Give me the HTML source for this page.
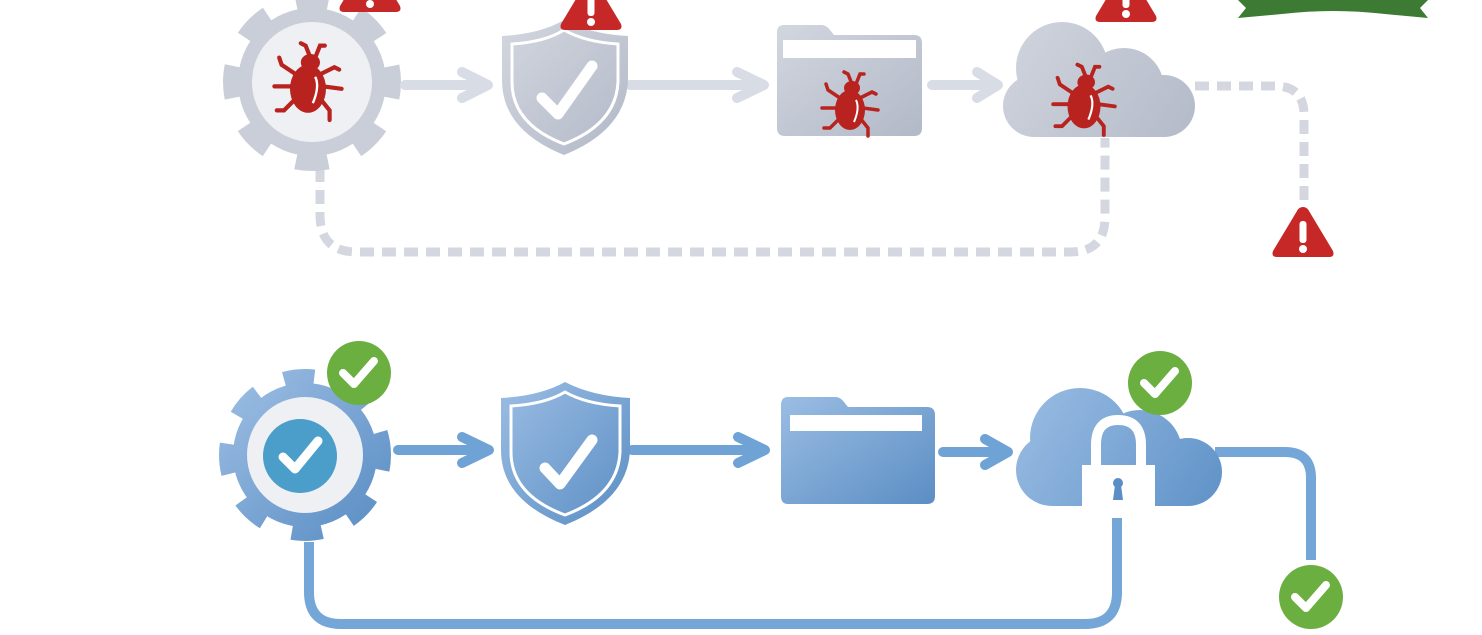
<!DOCTYPE html>
<html><head><meta charset="utf-8"><style>html,body{margin:0;padding:0;background:#fff}svg{display:block}</style></head>
<body>
<svg width="1482" height="635" viewBox="0 0 1482 635" xmlns="http://www.w3.org/2000/svg">
<defs>
<g id="bug">
 <g stroke="#b8231f" stroke-width="3.5" fill="none" stroke-linecap="round">
  <path d="M-10,-8 L-22,-16 L-24,-22"/><path d="M-13,2 L-28,2"/><path d="M-10,12 L-20,22 L-26,22"/>
  <path d="M10,-8 L22,-14 L26,-12"/><path d="M13,2 L28,4"/><path d="M10,12 L18,22 L18,30"/>
  <path d="M2,-22 L-2,-32 L-6,-34"/><path d="M6,-22 L10,-32 L14,-32"/>
 </g>
 <ellipse cx="2" cy="-18" rx="8" ry="7" fill="#b8231f"/>
 <ellipse cx="0" cy="4" rx="15" ry="20" fill="#b8231f"/>
 <path d="M6,-6 Q10,2 4,16" stroke="#fff" stroke-width="2" fill="none"/>
</g>
<g id="warn">
 <path d="M0,-28 Q4,-28 6,-24 L30,16 Q32,22 26,22 L-26,22 Q-32,22 -30,16 L-6,-24 Q-4,-28 0,-28Z" fill="#c62828"/>
 <rect x="-3.5" y="-14" width="7" height="22" rx="3" fill="#fff"/>
 <circle cx="0" cy="14" r="4" fill="#fff"/>
</g>
<g id="ok">
 <circle r="32" fill="#6aaf3f"/>
 <path d="M-16,0 L-5,11 L15,-12" stroke="#fff" stroke-width="8" fill="none" stroke-linecap="round" stroke-linejoin="round"/>
</g>
<linearGradient id="bl" x1="0" y1="0" x2="1" y2="1"><stop offset="0" stop-color="#9bbde3"/><stop offset="1" stop-color="#5b8ec4"/></linearGradient>
<linearGradient id="gr" x1="0" y1="0" x2="1" y2="1"><stop offset="0" stop-color="#d2d6df"/><stop offset="1" stop-color="#b2b9c7"/></linearGradient>
<linearGradient id="cg" gradientUnits="userSpaceOnUse" x1="1010" y1="20" x2="1190" y2="140"><stop offset="0" stop-color="#d0d4dd"/><stop offset="1" stop-color="#b4bbc9"/></linearGradient>
<linearGradient id="cb" gradientUnits="userSpaceOnUse" x1="1020" y1="385" x2="1220" y2="510"><stop offset="0" stop-color="#9bbde3"/><stop offset="1" stop-color="#5f92c8"/></linearGradient>
</defs>

<!-- ===== TOP ROW ===== -->
<g fill="none" stroke="#d4d7df" stroke-width="9" stroke-dasharray="14,8">
 <path d="M320,168 L320,215 Q320,252 357,252 L1070,252 Q1105,252 1105,217 L1105,138"/>
 <path d="M1195,86 L1275,86 Q1304,86 1304,115 L1304,205"/>
</g>
<!-- gear -->
<circle cx="312" cy="82" r="74" fill="#c9ced8"/>
<circle cx="312" cy="82" r="80" fill="none" stroke="#c9ced8" stroke-width="18" stroke-dasharray="32,30.83" stroke-dashoffset="16"/>
<circle cx="312" cy="82" r="60" fill="#eef0f3"/>
<use href="#bug" transform="translate(308,84) scale(1.2)"/>
<use href="#warn" transform="translate(370,-10)"/>
<g stroke="#d8dce4" stroke-width="10" fill="none" stroke-linecap="round" stroke-linejoin="round">
 <path d="M405,85 L487,85 M462,72 L488,85 L462,98"/>
 <path d="M630,85 L763,85 M737,72 L764,85 L737,98"/>
 <path d="M932,85 L995,85 M977,72 L998,85 L977,98"/>
</g>
<!-- shield -->
<path d="M502,36 Q540,34 564,20 Q590,34 628,36 L628,80 Q626,130 564,155 Q502,130 502,80Z" fill="url(#gr)"/>
<path d="M512,44 Q545,42 564,30 Q585,42 618,44 L618,82 Q616,124 564,144 Q512,124 512,82Z" fill="none" stroke="#fff" stroke-width="3"/>
<path d="M542,98 L558,114 L592,66" stroke="#fff" stroke-width="11" fill="none" stroke-linecap="round" stroke-linejoin="round"/>
<use href="#warn" transform="translate(591,8)"/>
<!-- folder -->
<path d="M784,25 L822,25 Q826,25 830,30 L834,35 L914,35 Q922,35 922,43 L922,128 Q922,136 914,136 L785,136 Q777,136 777,128 L777,32 Q777,25 784,25Z" fill="url(#gr)"/>
<rect x="783" y="40" width="133" height="18" fill="#fff"/>
<use href="#bug" transform="translate(850,106)"/>
<!-- cloud -->
<g fill="url(#cg)">
 <circle cx="1062" cy="68" r="46"/><circle cx="1124" cy="88" r="40"/><circle cx="1034" cy="106" r="31"/><circle cx="1164" cy="106" r="31"/>
 <rect x="1034" y="90" width="130" height="47"/>
</g>
<use href="#bug" transform="translate(1084,102) scale(1.1)"/>
<use href="#warn" transform="translate(1126,0)"/>
<use href="#warn" transform="translate(1303,235)"/>
<path d="M1238,0 L1428,0 L1420,8 L1428,18 L1385,14 Q1333,8 1282,14 L1238,18 L1246,8Z" fill="#3d7a34"/>

<!-- ===== BOTTOM ROW ===== -->
<g fill="none" stroke="#74a6d8" stroke-width="10">
 <path d="M309,542 L309,592 Q309,624 341,624 L1085,624 Q1117,624 1117,592 L1117,518"/>
 <path d="M1215,452 L1285,452 Q1311,452 1311,478 L1311,560"/>
</g>
<circle cx="305" cy="455" r="72" fill="url(#bl)"/>
<circle cx="305" cy="455" r="77" fill="none" stroke="url(#bl)" stroke-width="18" stroke-dasharray="30,29.48" stroke-dashoffset="15"/>
<circle cx="305" cy="455" r="58" fill="#eef0f4"/>
<circle cx="300" cy="456" r="37" fill="#4a9ec9"/>
<path d="M283,457 L295,469 L318,441" stroke="#fff" stroke-width="9" fill="none" stroke-linecap="round" stroke-linejoin="round"/>
<use href="#ok" transform="translate(359,373)"/>
<g stroke="#6fa3d6" stroke-width="10" fill="none" stroke-linecap="round" stroke-linejoin="round">
 <path d="M398,450 L488,450 M462,437 L489,450 L462,463"/>
 <path d="M632,450 L764,450 M738,437 L765,450 L738,463"/>
 <path d="M943,452 L1006,452 M985,439 L1008,452 L985,465"/>
</g>
<path d="M501,398 Q540,396 565,382 Q592,396 630,398 L630,450 Q628,500 565,525 Q501,500 501,450Z" fill="url(#bl)"/>
<path d="M511,406 Q545,404 565,392 Q586,404 620,406 L620,452 Q618,495 565,515 Q511,495 511,452Z" fill="none" stroke="#fff" stroke-width="3"/>
<path d="M545,468 L560,484 L592,440" stroke="#fff" stroke-width="11" fill="none" stroke-linecap="round" stroke-linejoin="round"/>
<path d="M788,397 L836,397 Q840,397 844,402 L848,407 L927,407 Q935,407 935,415 L935,496 Q935,504 927,504 L788,504 Q781,504 781,496 L781,405 Q781,397 788,397Z" fill="url(#bl)"/>
<rect x="790" y="415" width="132" height="16" fill="#fff"/>
<g fill="url(#cb)">
 <circle cx="1080" cy="438" r="50"/><circle cx="1140" cy="452" r="42"/><circle cx="1052" cy="470" r="36"/><circle cx="1188" cy="472" r="34"/>
 <rect x="1052" y="460" width="136" height="46"/>
</g>
<path d="M1096,468 L1096,445 Q1096,420 1118,420 Q1141,420 1141,445 L1141,468" fill="none" stroke="#fff" stroke-width="10"/>
<rect x="1082" y="465" width="73" height="45" fill="#fff"/>
<circle cx="1118" cy="483" r="5" fill="#5b8ec4"/><path d="M1115,485 L1113,500 L1123,500 L1121,485Z" fill="#5b8ec4"/>
<use href="#ok" transform="translate(1160,383)"/>
<use href="#ok" transform="translate(1311,597)"/>
</svg>
</body></html>
